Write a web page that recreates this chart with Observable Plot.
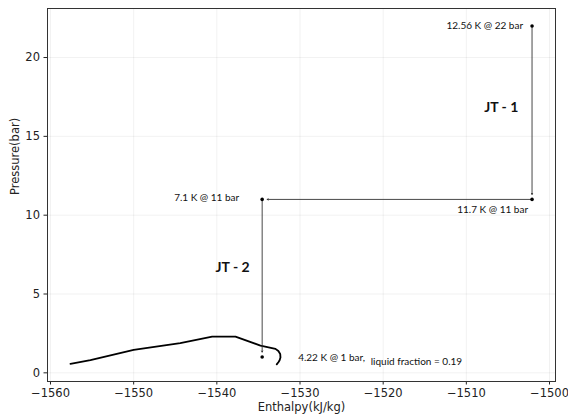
<!DOCTYPE html>
<html>
<head>
<meta charset="utf-8">
<script src="https://cdn.jsdelivr.net/npm/d3@7"></script>
<script src="https://cdn.jsdelivr.net/npm/@observablehq/plot@0.6"></script>
<style>
  html, body { margin: 0; padding: 0; background: #fff; }
</style>
</head>
<body>
<div id="chart"></div>
<script>
// Saturation curve (enthalpy kJ/kg, pressure bar)
const curveH = [-1557.6, -1555.2, -1550.0, -1544.4, -1540.56, -1537.76, -1534.75, -1532.95, -1532.6, -1532.38, -1532.35, -1532.45, -1532.6, -1532.8];
const curveP = [0.57, 0.8, 1.46, 1.89, 2.3, 2.3, 1.73, 1.52, 1.38, 1.2, 0.98, 0.8, 0.67, 0.54];

// Process states
const stateH = [-1502.1, -1502.1, -1534.55, -1534.55];
const stateP = [22, 11, 11, 1];
const stateLabels = ["12.56 K @ 22 bar", "11.7 K @ 11 bar", "7.1 K @ 11 bar", "4.22 K @ 1 bar,"];

// Free annotations
const noteText = ["JT - 1", "JT - 2", "liquid fraction = 0.19"];
const noteH = [-1505.8, -1538.1, -1521.5];
const noteP = [16.8, 6.7, 0.72];

// Axis ticks
const xTicks = [-1560, -1550, -1540, -1530, -1520, -1510, -1500];
const yTicks = [0, 5, 10, 15, 20];

const curve = curveH.map((h, i) => ({h, p: curveP[i]}));
const states = stateH.map((h, i) => ({h, p: stateP[i], label: stateLabels[i]}));
const arrows = states.slice(0, -1).map((s, i) => ({h1: s.h, p1: s.p, h2: states[i + 1].h, p2: states[i + 1].p}));
const notes = noteText.map((t, i) => ({t, h: noteH[i], p: noteP[i]}));

const annFont = "Lato, 'Open Sans', sans-serif";
const labelOffsets = [[-9, 0, "end"], [-4, 10, "end"], [-23, -2, "end"], [36, 1, "start"]];
const fmt = d3.format("d");

const chart = Plot.plot({
  width: 568,
  height: 419,
  marginLeft: 47,
  marginRight: 13,
  marginTop: 8,
  marginBottom: 38,
  style: {fontFamily: "'DejaVu Sans', sans-serif", fontSize: "11px", background: "#fff", color: "#222"},
  x: {domain: [-1560.36, -1499.28], label: null},
  y: {domain: [-0.55, 23.11], label: null},
  marks: [
    Plot.gridX(xTicks, {stroke: "#000", strokeOpacity: 0.07, strokeWidth: 0.8}),
    Plot.gridY(yTicks, {stroke: "#000", strokeOpacity: 0.07, strokeWidth: 0.8}),
    Plot.axisX(xTicks, {tickSize: 3.5, tickPadding: 4, fontSize: 11.5, tickFormat: fmt, label: null}),
    Plot.axisY(yTicks, {tickSize: 3.5, tickPadding: 4, fontSize: 11.5, tickFormat: fmt, label: null}),
    Plot.line(curve, {x: "h", y: "p", stroke: "#000", strokeWidth: 1.8, curve: "linear"}),
    Plot.arrow(arrows, {x1: "h1", y1: "p1", x2: "h2", y2: "p2", stroke: "#333", strokeWidth: 0.9, headLength: 2, insetEnd: 5, insetStart: 0}),
    Plot.dot(states, {x: "h", y: "p", r: 1.8, fill: "#000", stroke: null}),
    ...states.map((s, i) => Plot.text([s], {x: "h", y: "p", text: "label", dx: labelOffsets[i][0], dy: labelOffsets[i][1], textAnchor: labelOffsets[i][2], fontFamily: annFont, fontSize: 10, fill: "#111"})),
    Plot.text(notes.slice(0, 2), {x: "h", y: "p", text: "t", fontFamily: annFont, fontSize: 14, fontWeight: "bold", fill: "#111"}),
    Plot.text(notes.slice(2), {x: "h", y: "p", text: "t", textAnchor: "start", fontFamily: annFont, fontSize: 10, fill: "#111"}),
    Plot.text(["Enthalpy(kJ/kg)"], {text: d => d, frameAnchor: "bottom", dy: 29, fontSize: 11.5}),
    Plot.text(["Pressure(bar)"], {text: d => d, frameAnchor: "left", rotate: -90, dx: -32, fontSize: 11.5}),
    Plot.frame({stroke: "#333", strokeWidth: 1})
  ]
});
document.getElementById("chart").appendChild(chart);
</script>
</body>
</html>
